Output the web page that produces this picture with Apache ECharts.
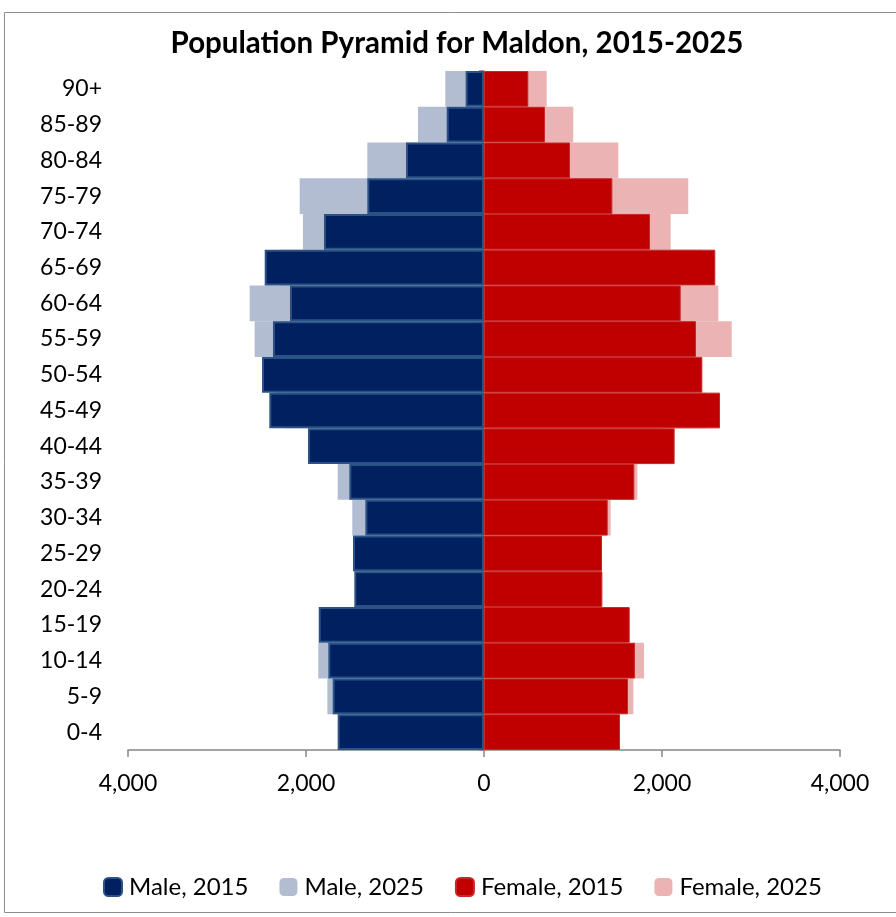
<!DOCTYPE html>
<html>
<head>
<meta charset="utf-8">
<script src="https://cdn.jsdelivr.net/npm/echarts@6/dist/echarts.min.js"></script>
<style>
  html, body { margin: 0; padding: 0; background: #fff; }
  #chart { width: 896px; height: 917px; }
</style>
</head>
<body>
<div id="chart"></div>
<script>
// Age bands, bottom to top
const ageGroups = ['0-4','5-9','10-14','15-19','20-24','25-29','30-34','35-39','40-44','45-49',
                   '50-54','55-59','60-64','65-69','70-74','75-79','80-84','85-89','90+'];

// Population counts per band (males plotted to the left)
const male2015   = [1644,1700,1749,1857,1457,1472,1333,1513,1978,2412,2494,2371,2180,2464,1798,1311,876,419,206];
const male2025   = [1600,1760,1862,1760,1400,1440,1480,1644,1850,2250,2350,2577,2633,2300,2034,2071,1311,742,435];
const female2015 = [1528,1618,1697,1637,1330,1326,1390,1689,2142,2652,2453,2382,2210,2599,1865,1442,966,685,498];
const female2025 = [1480,1678,1798,1560,1300,1300,1423,1723,2000,2500,2380,2783,2633,2450,2097,2295,1509,1003,704];

// x-axis tick values
const xTicks = [-4000, -2000, 0, 2000, 4000];

const FONT = 'Lato';
const neg = arr => arr.map(v => -v);

const chart = echarts.init(document.getElementById('chart'), null, { renderer: 'canvas' });

chart.setOption({
  backgroundColor: '#ffffff',
  animation: false,
  graphic: [{
    type: 'rect',
    shape: { x: 4.5, y: 12.5, width: 900, height: 900 },
    style: { fill: 'none', stroke: '#8c8c8c', lineWidth: 1 },
    silent: true
  }],
  title: {
    text: 'Population Pyramid for Maldon, 2015-2025',
    left: 452, top: 23, textAlign: 'center',
    textStyle: { fontFamily: FONT, fontWeight: 'bold', fontSize: 29.5, color: '#000' }
  },
  legend: {
    top: 870, left: 98,
    data: ['Male, 2015', 'Male, 2025', 'Female, 2015', 'Female, 2025'],
    itemWidth: 18, itemHeight: 18, itemGap: 31,
    icon: 'roundRect',
    textStyle: { fontFamily: FONT, fontSize: 24, color: '#000', padding: [0, 0, 0, 2] }
  },
  grid: { left: 128, right: 56, top: 71, bottom: 167, containLabel: false },
  xAxis: {
    type: 'value',
    min: xTicks[0], max: xTicks[xTicks.length - 1], interval: 2000,
    splitLine: { show: false },
    axisLine: { show: true, onZero: false, lineStyle: { color: '#868686', width: 1.5 } },
    axisTick: { show: true, length: 7, lineStyle: { color: '#868686', width: 1.5 } },
    axisLabel: {
      margin: 22,
      fontFamily: FONT, fontSize: 23, color: '#000',
      formatter: v => Math.abs(v).toLocaleString('en-US')
    }
  },
  yAxis: [{
    type: 'category', data: ageGroups, position: 'left',
    axisLine: { show: false, onZero: false }, axisTick: { show: false },
    axisLabel: { margin: 26, fontFamily: FONT, fontSize: 23, color: '#000' }
  }, {
    type: 'category', data: ageGroups, position: 'left',
    axisLine: { show: true, onZero: true, lineStyle: { color: '#868686', width: 1.5 } },
    axisTick: { show: true, length: 5, lineStyle: { color: '#868686', width: 1.5 } },
    axisLabel: { show: false }
  }],
  series: [{
    name: 'Male, 2015', type: 'bar', data: neg(male2015), z: 4,
    barGap: '-100%', barCategoryGap: '0%',
    itemStyle: { color: '#002060', borderColor: '#2A5285', borderWidth: 2 }
  }, {
    name: 'Male, 2025', type: 'bar', data: neg(male2025), z: 2,
    barGap: '-100%', barCategoryGap: '0%',
    itemStyle: { color: '#B3BDD1' }
  }, {
    name: 'Female, 2015', type: 'bar', data: female2015, z: 4,
    barGap: '-100%', barCategoryGap: '0%',
    itemStyle: { color: '#C00000', borderColor: '#C8282A', borderWidth: 1 }
  }, {
    name: 'Female, 2025', type: 'bar', data: female2025, z: 2,
    barGap: '-100%', barCategoryGap: '0%',
    itemStyle: { color: '#EBB3B3' }
  }]
});
</script>
</body>
</html>
